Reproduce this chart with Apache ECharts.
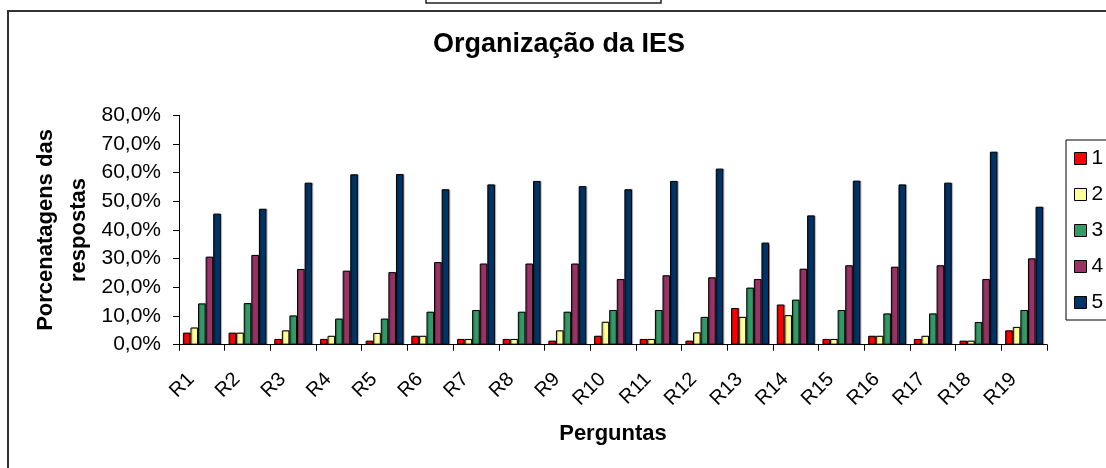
<!DOCTYPE html>
<html>
<head>
<meta charset="utf-8">
<script src="https://cdn.jsdelivr.net/npm/echarts@6/dist/echarts.min.js"></script>
<style>
html,body{margin:0;padding:0;background:#fff;}
#chart{width:1106px;height:468px;}
</style>
</head>
<body>
<div id="chart"></div>
<script>
const categories = ['R1','R2','R3','R4','R5','R6','R7','R8','R9','R10','R11','R12','R13','R14','R15','R16','R17','R18','R19'];
const seriesNames = ['1','2','3','4','5'];
const s1 = [4.2,4.2,2.0,2.0,1.4,3.1,2.0,2.0,1.4,3.1,2.0,1.4,12.8,14.0,2.0,3.1,2.0,1.4,5.0];
const s2 = [6.0,4.2,5.0,3.1,4.1,3.1,2.0,2.0,5.0,8.0,2.0,4.3,9.7,10.3,2.0,3.1,3.1,1.4,6.2];
const s3 = [14.4,14.5,10.2,9.1,9.1,11.5,12.1,11.5,11.5,12.1,12.1,9.7,19.9,15.7,12.1,10.9,10.9,7.9,12.1];
const s4 = [30.7,31.3,26.4,25.8,25.3,28.8,28.3,28.3,28.3,22.9,24.2,23.5,22.9,26.5,27.7,27.2,27.7,22.9,30.1];
const s5 = [45.7,47.4,56.5,59.4,59.5,54.2,55.9,57.1,55.3,54.2,57.1,61.4,35.6,45.1,57.2,55.9,56.5,67.3,48.1];
const colors = ['#FF0000','#FFFF99','#339966','#993366','#003366'];
const seriesData = [s1,s2,s3,s4,s5];

const FONT = '"Liberation Sans", Arial, sans-serif';
const chart = echarts.init(document.getElementById('chart'), null, {renderer:'canvas'});
chart.setOption({
  animation:false,
  backgroundColor:'#fff',
  textStyle:{fontFamily:FONT,color:'#000'},
  title:{
    text:'Organização da IES',
    left:433,top:31,padding:0,
    textStyle:{fontFamily:FONT,fontSize:27,fontWeight:'bold',color:'#000'}
  },
  graphic:[
    {type:'rect',shape:{x:8,y:11,width:1200,height:600},style:{fill:'none',stroke:'#333',lineWidth:2},z:-1},
    {type:'rect',shape:{x:426,y:-20,width:235,height:23},style:{fill:'none',stroke:'#222',lineWidth:1.5},z:-1}
  ],
  legend:{
    orient:'vertical',left:1066,top:140,
    padding:[8,40,7,8],
    itemWidth:12,itemHeight:12,itemGap:15,
    borderColor:'#000',borderWidth:1,
    icon:'rect',
    itemStyle:{borderColor:'#000',borderWidth:1},
    textStyle:{fontFamily:FONT,fontSize:21,color:'#000',lineHeight:21,padding:[0,0,0,0]},
    data:seriesNames
  },
  grid:{left:179,right:59,top:115.3,bottom:123.3,containLabel:false,outerBoundsMode:'none'},
  xAxis:{
    type:'category',data:categories,
    boundaryGap:true,
    name:'Perguntas',nameLocation:'middle',nameGap:78,nameMoveOverlap:false,
    nameTextStyle:{fontFamily:FONT,fontSize:22,fontWeight:'bold',color:'#000'},
    axisLine:{lineStyle:{color:'#000',width:1}},
    axisTick:{show:true,inside:false,length:6,alignWithLabel:false,lineStyle:{color:'#000'}},
    axisLabel:{interval:0,rotate:45,margin:21,padding:[0,15,0,0],fontFamily:FONT,fontSize:20,color:'#000',hideOverlap:false}
  },
  yAxis:{
    type:'value',min:0,max:80,interval:10,
    name:'Porcenatagens das\nrespostas',nameLocation:'middle',nameRotate:90,nameGap:84,nameMoveOverlap:false,
    nameTextStyle:{fontFamily:FONT,fontSize:22,fontWeight:'bold',color:'#000',lineHeight:33},
    axisLine:{show:true,lineStyle:{color:'#000',width:1}},
    axisTick:{show:true,inside:false,length:6,lineStyle:{color:'#000'}},
    splitLine:{show:false},
    axisLabel:{margin:18,fontFamily:FONT,fontSize:21,color:'#000',
      formatter:function(v){return v.toFixed(1).replace('.',',')+'%';}}
  },
  series:seriesData.map(function(d,i){
    return {
      name:seriesNames[i],type:'bar',data:d,
      barGap:'0%',barCategoryGap:'17%',
      itemStyle:{color:colors[i],borderColor:'#000',borderWidth:1,
        shadowColor:'rgba(0,0,0,0.3)',shadowOffsetX:1,shadowOffsetY:0,shadowBlur:1}
    };
  })
});
</script>
</body>
</html>
